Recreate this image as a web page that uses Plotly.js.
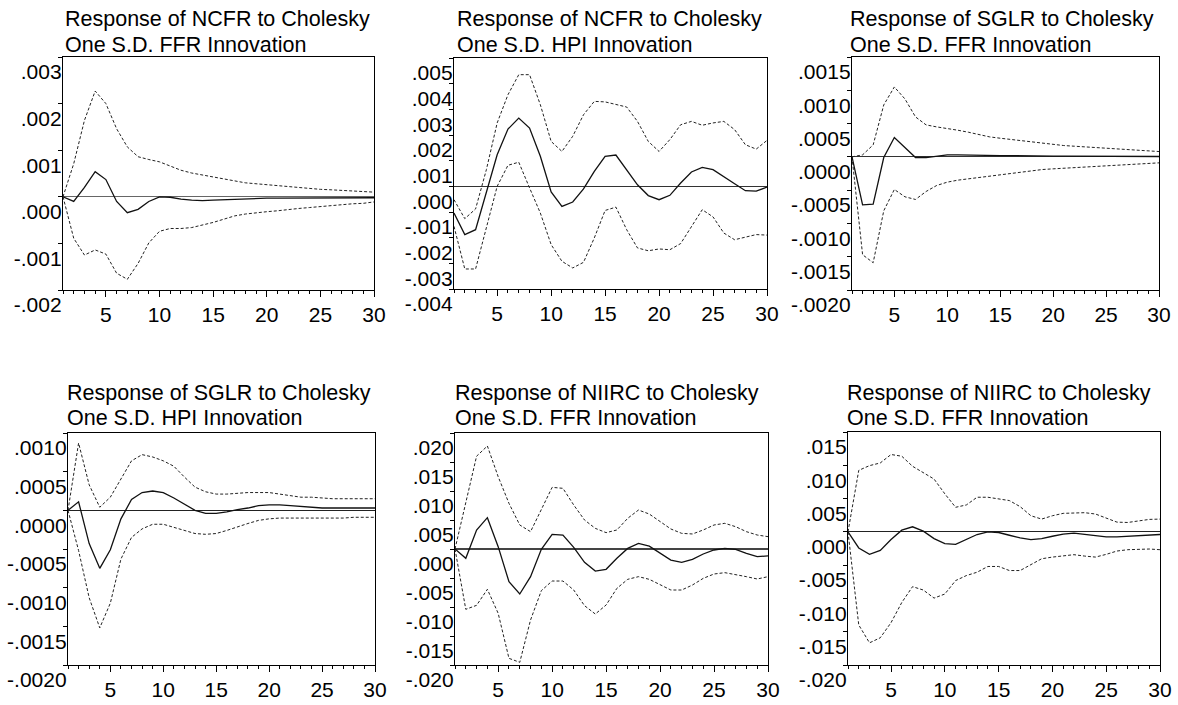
<!DOCTYPE html>
<html>
<head>
<meta charset="utf-8">
<script src="https://cdn.plot.ly/plotly-3.0.1.min.js"></script>
<style>
html,body{margin:0;padding:0;background:#fff;}
#chart{width:1178px;height:705px;}
</style>
</head>
<body>
<div id="chart"></div>
<script>
// ---------- DATA ----------
const periods = [1,2,3,4,5,6,7,8,9,10,11,12,13,14,15,16,17,18,19,20,21,22,23,24,25,26,27,28,29,30];

const titles1 = [
  "Response of NCFR to Cholesky", "Response of NCFR to Cholesky", "Response of SGLR to Cholesky",
  "Response of SGLR to Cholesky", "Response of NIIRC to Cholesky", "Response of NIIRC to Cholesky"
];
const titles2 = [
  "One S.D. FFR Innovation", "One S.D. HPI Innovation", "One S.D. FFR Innovation",
  "One S.D. HPI Innovation", "One S.D. FFR Innovation", "One S.D. FFR Innovation"
];

const xTickVals = [5,10,15,20,25,30];
const xTickText = ["5","10","15","20","25","30"];

// Panel 1: NCFR <- FFR
const p1Resp  = [0,-0.0001,0.0002,0.00054,0.00037,-0.0001,-0.00034,-0.00027,-0.0001,0,-0.00001,-0.00005,-0.00007,-0.00008,-0.00007,-0.00006,-0.00005,-0.00004,-0.00004,-0.00003,-0.00003,-0.00003,-0.00003,-0.00002,-0.00002,-0.00002,-0.00002,-0.00002,-0.00002,-0.00002];
const p1Upper = [0,0.00071,0.00164,0.00227,0.002,0.00146,0.00107,0.00086,0.0008,0.00075,0.00066,0.00057,0.00051,0.00047,0.00043,0.00038,0.00034,0.0003,0.00028,0.00026,0.00024,0.00021,0.00019,0.00018,0.00016,0.00015,0.00014,0.00012,0.00011,0.0001];
const p1Lower = [0,-0.00089,-0.00125,-0.00114,-0.00123,-0.00164,-0.00177,-0.00143,-0.00099,-0.00074,-0.00068,-0.00068,-0.00066,-0.00061,-0.00055,-0.00048,-0.00041,-0.00037,-0.00034,-0.00032,-0.0003,-0.00027,-0.00025,-0.00023,-0.00021,-0.00019,-0.00016,-0.00015,-0.00014,-0.00011];
const p1TickVals = [-0.002,-0.001,0,0.001,0.002,0.003];
const p1TickText = ["-.002","-.001",".000",".001",".002",".003"];

// Panel 2: NCFR <- HPI
const p2Resp  = [-0.00104,-0.00188,-0.00169,-0.00026,0.00123,0.00223,0.00266,0.00227,0.00117,-0.00022,-0.00078,-0.00061,-0.0001,0.00058,0.00117,0.00122,0.00065,0.00006,-0.00036,-0.00052,-0.00035,0.00013,0.00056,0.00074,0.00065,0.00039,0.0001,-0.00017,-0.00019,-0.00003];
const p2Upper = [-0.00052,-0.00126,-0.00088,0.00065,0.00247,0.00357,0.00435,0.00435,0.00318,0.00175,0.00136,0.00195,0.00279,0.00331,0.00329,0.00318,0.00309,0.00253,0.00175,0.00136,0.00182,0.0024,0.00253,0.00238,0.00247,0.00253,0.00221,0.00162,0.00145,0.00179];
const p2Lower = [-0.00156,-0.00322,-0.00322,-0.00156,0,0.00082,0.00094,-0.00006,-0.00104,-0.00227,-0.00292,-0.00318,-0.00296,-0.00201,-0.00094,-0.00081,-0.00169,-0.0024,-0.00251,-0.00244,-0.00247,-0.00223,-0.00156,-0.00091,-0.00119,-0.00182,-0.00208,-0.00197,-0.00188,-0.0019];
const p2TickVals = [-0.004,-0.003,-0.002,-0.001,0,0.001,0.002,0.003,0.004,0.005];
const p2TickText = ["-.004","-.003","-.002","-.001",".000",".001",".002",".003",".004",".005"];

// Panel 3: SGLR <- FFR
const p3Resp  = [0,-0.00072,-0.00071,-0.00001,0.00029,0.00014,-0.00001,-0.00001,0.000015,0.00003,0.00003,0.000025,0.000025,0.00002,0.00002,0.00002,0.000015,0.000015,0.000012,0.00001,0.00001,0.00001,0.00001,0.000008,0.000008,0.000006,0.000006,0.000005,0.000005,0.000005];
const p3Upper = [0,0.00003,0.00018,0.00078,0.00105,0.00087,0.0006,0.00048,0.00045,0.00043,0.0004,0.00037,0.00033,0.0003,0.00028,0.00026,0.00024,0.00022,0.0002,0.00019,0.00017,0.00016,0.00015,0.00014,0.00013,0.00012,0.00011,0.0001,0.00009,0.00008];
const p3Lower = [0,-0.00147,-0.00159,-0.00081,-0.00049,-0.0006,-0.00064,-0.00052,-0.00043,-0.00038,-0.00035,-0.00033,-0.00031,-0.00029,-0.00026,-0.00024,-0.00022,-0.0002,-0.00019,-0.00018,-0.00017,-0.00016,-0.00015,-0.00014,-0.00013,-0.00012,-0.00011,-0.0001,-0.0001,-0.00009];
const p3TickVals = [-0.002,-0.0015,-0.001,-0.0005,0,0.0005,0.001,0.0015];
const p3TickText = ["-.0020","-.0015","-.0010","-.0005",".0000",".0005",".0010",".0015"];

// Panel 4: SGLR <- HPI
const p4Resp  = [0,0.00011,-0.00043,-0.00075,-0.00051,-0.00011,0.00014,0.00023,0.00025,0.00023,0.00016,0.00008,0,-0.00004,-0.00004,-0.00002,0.00001,0.00003,0.00006,0.00007,0.00007,0.00006,0.00005,0.00004,0.00003,0.00003,0.00003,0.00003,0.00003,0.00003];
const p4Upper = [0,0.00087,0.00033,0.00004,0.00017,0.00041,0.00064,0.00072,0.00069,0.00064,0.00057,0.00043,0.0003,0.00024,0.00021,0.00021,0.00022,0.00023,0.00023,0.00023,0.00021,0.00019,0.00017,0.00017,0.00016,0.00015,0.00015,0.00015,0.00015,0.00015];
const p4Lower = [0,-0.00052,-0.00113,-0.00152,-0.0012,-0.00063,-0.00035,-0.00024,-0.00018,-0.00018,-0.00022,-0.00026,-0.0003,-0.00031,-0.0003,-0.00026,-0.00022,-0.00017,-0.00013,-0.00011,-0.0001,-0.0001,-0.0001,-0.0001,-0.0001,-0.0001,-0.0001,-0.00009,-0.00009,-0.00009];
const p4TickVals = [-0.002,-0.0015,-0.001,-0.0005,0,0.0005,0.001];
const p4TickText = ["-.0020","-.0015","-.0010","-.0005",".0000",".0005",".0010"];

// Panel 5: NIIRC <- FFR
const p5Resp  = [0,-0.0016,0.00328,0.0054,0.0004,-0.00563,-0.00776,-0.00477,-0.00006,0.00253,0.00241,0.00029,-0.0023,-0.0038,-0.0035,-0.0016,0.0001,0.00098,0.0005,-0.00075,-0.0019,-0.0023,-0.0018,-0.00086,-0.00017,0.0001,-0.00006,-0.00075,-0.0013,-0.0012];
const p5Upper = [0,0.00816,0.016,0.01776,0.01247,0.00787,0.00414,0.00299,0.00684,0.01063,0.01046,0.00759,0.005,0.00356,0.00282,0.00328,0.00529,0.00672,0.00603,0.00471,0.00345,0.0027,0.00259,0.00328,0.00414,0.00443,0.00385,0.00299,0.00241,0.00213];
const p5Lower = [0,-0.0104,-0.00971,-0.00695,-0.01109,-0.01885,-0.01954,-0.01224,-0.00718,-0.00552,-0.00552,-0.00707,-0.00977,-0.01121,-0.00966,-0.00678,-0.00523,-0.00477,-0.00523,-0.00621,-0.00707,-0.00707,-0.00621,-0.00506,-0.00431,-0.00408,-0.00437,-0.00477,-0.00517,-0.00477];
const p5TickVals = [-0.02,-0.015,-0.01,-0.005,0,0.005,0.01,0.015,0.02];
const p5TickText = ["-.020","-.015","-.010","-.005",".000",".005",".010",".015",".020"];

// Panel 6: NIIRC <- FFR
const p6Resp  = [0,-0.00242,-0.00338,-0.00278,-0.00116,0.00025,0.00076,0.0001,-0.00101,-0.00177,-0.00187,-0.00116,-0.0004,0,-0.0001,-0.00051,-0.00091,-0.00116,-0.00101,-0.00066,-0.00035,-0.0002,-0.00035,-0.00061,-0.00076,-0.00076,-0.00066,-0.00051,-0.0004,-0.0004];
const p6Upper = [0,0.00924,0.00995,0.01035,0.01162,0.01136,0.00985,0.00894,0.00793,0.00571,0.00369,0.00404,0.0052,0.0052,0.005,0.0047,0.00379,0.00242,0.00192,0.00242,0.00278,0.00288,0.00288,0.00268,0.00212,0.00146,0.00141,0.00167,0.00187,0.00192];
const p6Lower = [0,-0.01399,-0.01667,-0.01591,-0.01364,-0.01061,-0.00823,-0.00874,-0.00995,-0.00934,-0.00732,-0.00657,-0.00606,-0.0052,-0.0052,-0.00581,-0.00581,-0.00495,-0.00404,-0.00379,-0.00364,-0.00343,-0.00364,-0.00379,-0.00338,-0.00288,-0.00268,-0.00263,-0.00258,-0.00268];
const p6TickVals = [-0.02,-0.015,-0.01,-0.005,0,0.005,0.01,0.015];
const p6TickText = ["-.020","-.015","-.010","-.005",".000",".005",".010",".015"];

// ---------- LAYOUT / STYLE ----------
const W = 1178, H = 705;
const FONT = "Liberation Sans, Arial, Helvetica, sans-serif";

const panels = [
  {resp:p1Resp, up:p1Upper, lo:p1Lower, tv:p1TickVals, tt:p1TickText, range:[-0.002,0.003], box:[63,374,57,290], tx:63, ty:[19,45], zc:"#666"},
  {resp:p2Resp, up:p2Upper, lo:p2Lower, tv:p2TickVals, tt:p2TickText, range:[-0.004,0.005], box:[454,767,58,289], tx:455, ty:[19,45], zc:"#333"},
  {resp:p3Resp, up:p3Upper, lo:p3Lower, tv:p3TickVals, tt:p3TickText, range:[-0.002,0.0015], box:[852,1159,57,290], tx:848, ty:[19,45], zc:"#333"},
  {resp:p4Resp, up:p4Upper, lo:p4Lower, tv:p4TickVals, tt:p4TickText, range:[-0.002,0.001], box:[68,375,433,665], tx:65, ty:[393,418], zc:"#222"},
  {resp:p5Resp, up:p5Upper, lo:p5Lower, tv:p5TickVals, tt:p5TickText, range:[-0.02,0.02], box:[455,768,433,665], tx:453, ty:[393,418], zc:"#444"},
  {resp:p6Resp, up:p6Upper, lo:p6Lower, tv:p6TickVals, tt:p6TickText, range:[-0.02,0.015], box:[848,1160,432,665], tx:845, ty:[393,418], zc:"#222"}
];

const traces = [];
const layout = {
  width: W, height: H,
  margin: {l:0, r:0, t:0, b:0},
  paper_bgcolor: "#ffffff",
  plot_bgcolor: "#ffffff",
  showlegend: false,
  font: {family: FONT, size: 21, color: "#000"},
  annotations: []
};

panels.forEach((p, i) => {
  const n = i + 1;
  const xa = n === 1 ? "x" : "x" + n;
  const ya = n === 1 ? "y" : "y" + n;
  const dash = {color:"#222", width:1, dash:"3px,2px"};
  traces.push({x: periods, y: p.up, xaxis: xa, yaxis: ya, type:"scatter", mode:"lines", line: dash, hoverinfo:"skip"});
  traces.push({x: periods, y: p.lo, xaxis: xa, yaxis: ya, type:"scatter", mode:"lines", line: dash, hoverinfo:"skip"});
  traces.push({x: periods, y: p.resp, xaxis: xa, yaxis: ya, type:"scatter", mode:"lines", line:{color:"#111", width:1.3}, hoverinfo:"skip"});

  const [l, r, t, b] = p.box;
  layout["xaxis" + (n === 1 ? "" : n)] = {
    domain: [l / W, r / W],
    anchor: ya,
    range: [1, 30],
    tickmode: "array",
    tickvals: xTickVals,
    ticktext: xTickText,
    ticks: "outside", ticklen: 6, tickwidth: 1, tickcolor: "#000",
    minor: {dtick: 1, tick0: 0, ticks: "outside", ticklen: 3, tickcolor: "#000", tickwidth: 1, showgrid: false},
    showline: true, linecolor: "#000", linewidth: 1.2, mirror: true,
    showgrid: false, zeroline: false,
    tickfont: {family: FONT, size: 21, color: "#000"},
    fixedrange: true
  };
  layout["yaxis" + (n === 1 ? "" : n)] = {
    domain: [1 - b / H, 1 - t / H],
    anchor: xa,
    range: p.range,
    tickmode: "array",
    tickvals: p.tv,
    ticktext: p.tt,
    ticks: "outside", ticklen: 4, tickwidth: 1, tickcolor: "#000",
    ticklabelshift: 15,
    ticklabelstandoff: -8,
    showline: true, linecolor: "#000", linewidth: 1.2, mirror: true,
    showgrid: false,
    zeroline: true, zerolinecolor: p.zc, zerolinewidth: 1.2,
    tickfont: {family: FONT, size: 21, color: "#000"},
    fixedrange: true
  };

  layout.annotations.push({
    xref: "paper", yref: "paper", x: p.tx / W, y: 1 - p.ty[0] / H,
    xanchor: "left", yanchor: "middle", showarrow: false,
    text: titles1[i], font: {family: FONT, size: 21.5, color: "#000"}
  });
  layout.annotations.push({
    xref: "paper", yref: "paper", x: p.tx / W, y: 1 - p.ty[1] / H,
    xanchor: "left", yanchor: "middle", showarrow: false,
    text: titles2[i], font: {family: FONT, size: 21.5, color: "#000"}
  });
});

Plotly.newPlot("chart", traces, layout, {displayModeBar: false, staticPlot: true});
</script>
</body>
</html>
